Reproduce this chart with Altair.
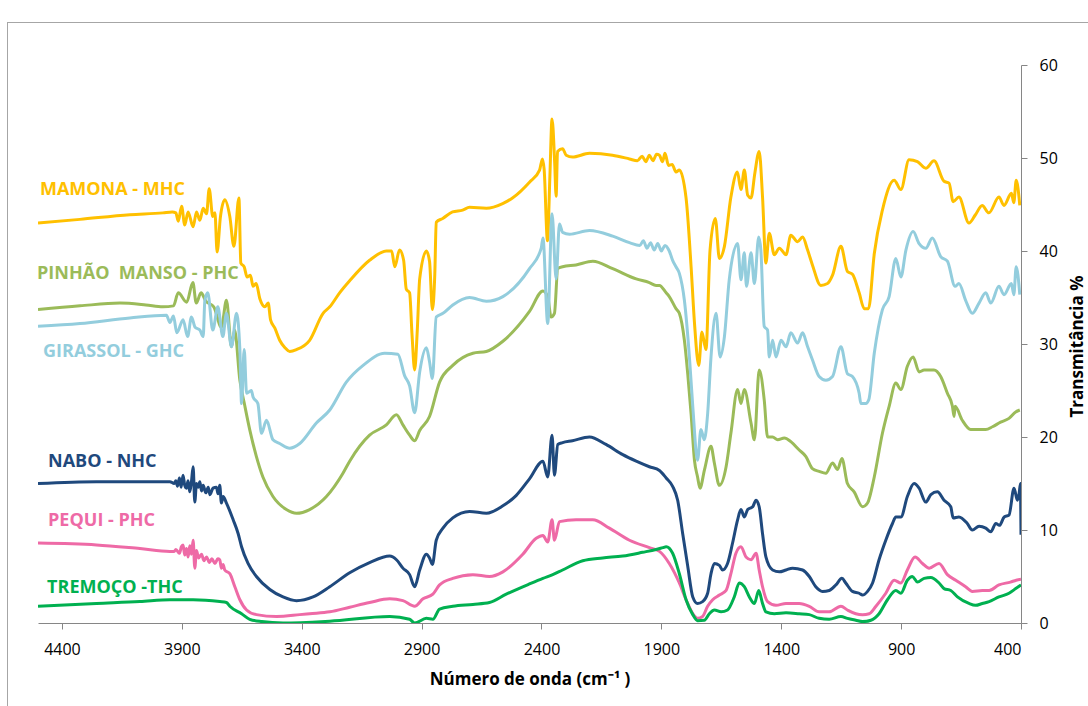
import altair as alt
import pandas as pd

# FTIR spectra: (wavenumber cm-1, transmittance %)
MAMONA = [
    (4500, 43.0), (4325, 43.4), (4117, 43.9), (3979, 44.1), (3940, 44.2), (3925, 44.1), (3915, 43.2),
    (3901, 44.8), (3888, 42.8), (3874, 44.2), (3853, 42.6), (3839, 44.2), (3825, 43.3), (3811, 44.6),
    (3797, 44.0), (3786, 46.7), (3771, 43.7), (3762, 44.1), (3753, 39.9), (3739, 43.7), (3721, 45.5),
    (3700, 43.7), (3683, 40.5), (3662, 45.7), (3654, 38.7), (3640, 38.3), (3628, 37.2), (3614, 37.4),
    (3603, 36.2), (3590, 36.5), (3575, 34.9), (3554, 34.0), (3540, 34.4), (3530, 32.6), (3512, 31.7),
    (3492, 30.4), (3470, 29.6), (3450, 29.2), (3422, 29.4), (3367, 30.4), (3311, 33.3), (3283, 34.0),
    (3242, 35.5), (3200, 36.8), (3117, 39.0), (3047, 40.0), (3025, 40.0), (3012, 38.3), (2992, 40.1),
    (2975, 39.0), (2964, 35.9), (2950, 35.5), (2940, 31.0), (2929, 27.2), (2918, 31.5), (2908, 37.0),
    (2880, 40.0), (2867, 38.9), (2855, 33.7), (2845, 37.5), (2839, 43.1), (2812, 43.5), (2771, 44.2),
    (2729, 44.4), (2700, 44.7), (2630, 44.6), (2562, 45.1), (2521, 45.7), (2450, 47.4), (2408, 48.7),
    (2396, 49.9), (2389, 48.8), (2375, 41.1), (2365, 48.0), (2356, 54.2), (2345, 49.5), (2339, 45.9),
    (2333, 50.7), (2312, 51.0), (2297, 50.3), (2271, 50.1), (2200, 50.5), (2104, 50.3), (2033, 49.9),
    (2000, 49.7), (1980, 50.2), (1965, 49.6), (1950, 50.3), (1935, 49.7), (1920, 50.4), (1908, 50.3),
    (1895, 49.6), (1885, 50.5), (1870, 49.2), (1855, 49.3), (1839, 48.5), (1825, 48.7), (1797, 45.7),
    (1776, 38.3), (1762, 32.3), (1744, 27.7), (1731, 31.3), (1714, 29.4), (1697, 40.1), (1675, 43.5),
    (1658, 39.2), (1637, 40.5), (1610, 45.8), (1583, 48.5), (1568, 46.6), (1554, 48.7), (1540, 46.0),
    (1526, 45.7), (1510, 48.4), (1492, 50.7), (1478, 45.8), (1464, 38.7), (1450, 41.9), (1429, 39.6),
    (1408, 40.3), (1380, 39.6), (1360, 41.7), (1332, 41.0), (1311, 41.5), (1290, 40.1), (1270, 38.5),
    (1235, 36.3), (1207, 36.5), (1186, 37.4), (1151, 40.5), (1124, 37.8), (1103, 37.5), (1075, 35.5),
    (1054, 33.8), (1036, 33.8), (1012, 39.7), (978, 44.4), (929, 47.6), (901, 46.6), (867, 49.8),
    (832, 49.6), (797, 48.9), (763, 49.7), (721, 47.5), (700, 47.3), (683, 45.3), (659, 45.8),
    (617, 43.0), (590, 43.9), (562, 44.9), (534, 44.1), (492, 45.8), (471, 44.9), (440, 46.2),
    (430, 45.2), (420, 47.6), (405, 44.9),
]

PINHAO = [
    (4500, 33.7), (4325, 34.1), (4158, 34.4), (4050, 34.2), (3979, 34.0), (3935, 34.1), (3915, 35.5),
    (3880, 34.5), (3854, 36.6), (3840, 34.4), (3820, 35.5), (3800, 34.6), (3767, 34.0), (3735, 31.8),
    (3714, 34.7), (3693, 29.7), (3680, 31.5), (3658, 26.1), (3637, 23.3), (3617, 20.8), (3589, 17.9),
    (3562, 15.7), (3520, 13.6), (3464, 12.2), (3422, 11.8), (3367, 12.2), (3297, 13.6), (3228, 16.1),
    (3200, 17.4), (3117, 20.2), (3047, 21.3), (3005, 22.4), (2978, 21.3), (2950, 20.2), (2929, 19.6),
    (2908, 20.7), (2867, 22.2), (2825, 25.9), (2770, 27.7), (2686, 29.0), (2630, 29.2), (2561, 30.3),
    (2450, 33.5), (2394, 35.7), (2374, 35.1), (2360, 32.9), (2346, 33.3), (2332, 38.1), (2312, 38.3),
    (2256, 38.5), (2186, 38.9), (2103, 38.1), (2005, 37.0), (1950, 36.6), (1922, 36.3), (1908, 36.3),
    (1880, 35.5), (1867, 35.1), (1839, 33.8), (1825, 33.3), (1804, 30.4), (1790, 26.8), (1776, 22.5),
    (1762, 17.5), (1749, 15.7), (1739, 14.5), (1720, 16.5), (1693, 19.0), (1679, 17.2), (1658, 14.8),
    (1630, 16.8), (1610, 20.4), (1582, 25.1), (1568, 23.6), (1554, 25.1), (1526, 21.5), (1512, 19.7),
    (1492, 27.2), (1471, 24.0), (1457, 20.0), (1436, 20.0), (1415, 19.7), (1387, 19.9), (1360, 19.5),
    (1325, 18.6), (1297, 17.9), (1270, 16.6), (1242, 16.3), (1214, 16.1), (1186, 17.2), (1165, 16.5),
    (1147, 17.7), (1124, 15.0), (1096, 14.1), (1061, 12.5), (1040, 12.9), (1012, 15.7), (978, 20.4),
    (950, 23.3), (922, 25.8), (901, 25.1), (874, 27.6), (850, 28.6), (825, 27.0), (804, 27.2),
    (783, 27.2), (763, 27.2), (735, 26.5), (707, 24.7), (686, 23.3), (679, 22.2), (675, 23.3),
    (645, 21.8), (610, 20.8), (575, 20.8), (547, 20.8), (519, 21.1), (485, 21.6), (450, 22.0),
    (422, 22.7), (405, 22.9),
]

GIRASSOL = [
    (4500, 31.9), (4325, 32.2), (4117, 32.8), (3964, 33.1), (3950, 32.3), (3935, 33.0), (3921, 31.2),
    (3895, 32.6), (3876, 30.8), (3860, 32.9), (3845, 31.8), (3825, 31.5), (3811, 30.8), (3804, 34.7),
    (3792, 35.5), (3771, 31.5), (3750, 34.0), (3729, 30.8), (3714, 33.3), (3693, 29.7), (3672, 33.3),
    (3658, 29.4), (3651, 23.6), (3640, 29.4), (3630, 24.7), (3610, 25.0), (3603, 24.3), (3583, 23.6),
    (3568, 20.4), (3547, 21.8), (3520, 19.7), (3492, 19.3), (3450, 18.8), (3408, 19.3), (3339, 21.5),
    (3283, 22.9), (3214, 25.9), (3144, 27.7), (3054, 29.0), (2999, 28.9), (2971, 26.6), (2950, 25.5),
    (2929, 22.6), (2908, 27.0), (2880, 29.6), (2867, 28.1), (2855, 26.3), (2839, 32.9), (2811, 33.3),
    (2770, 34.2), (2700, 35.0), (2630, 34.6), (2561, 35.1), (2450, 38.1), (2401, 40.3), (2394, 41.4),
    (2374, 32.2), (2356, 44.0), (2339, 37.0), (2325, 42.9), (2312, 42.0), (2283, 41.8), (2200, 42.2),
    (2103, 41.6), (2033, 40.9), (1990, 40.6), (1975, 41.1), (1960, 40.3), (1945, 40.9), (1930, 40.1),
    (1915, 40.8), (1900, 40.0), (1885, 40.6), (1867, 40.0), (1853, 39.0), (1839, 38.3), (1825, 37.6),
    (1804, 34.7), (1783, 28.6), (1769, 23.3), (1749, 17.5), (1735, 20.8), (1721, 19.7), (1707, 22.5),
    (1693, 28.6), (1672, 33.3), (1655, 28.6), (1637, 30.8), (1617, 36.9), (1582, 40.8), (1568, 36.9),
    (1554, 39.8), (1545, 36.2), (1526, 39.8), (1512, 36.5), (1494, 41.5), (1485, 40.1), (1471, 31.9),
    (1457, 31.5), (1450, 28.6), (1436, 30.4), (1422, 28.6), (1401, 30.4), (1380, 29.7), (1360, 31.2),
    (1332, 30.1), (1311, 31.2), (1290, 29.7), (1270, 28.3), (1242, 26.5), (1214, 26.1), (1186, 26.5),
    (1151, 29.7), (1124, 26.8), (1103, 26.5), (1075, 24.7), (1068, 23.6), (1047, 23.6), (1035, 24.0),
    (1012, 29.0), (978, 33.7), (950, 35.1), (922, 39.2), (901, 37.2), (880, 40.1), (850, 42.1),
    (825, 40.8), (797, 40.3), (770, 41.4), (735, 39.4), (707, 38.9), (675, 36.2), (659, 36.5),
    (631, 34.7), (603, 33.3), (575, 34.4), (547, 35.5), (526, 34.4), (492, 36.2), (471, 35.3),
    (440, 36.5), (430, 35.3), (420, 38.3), (405, 35.3),
]

NABO = [
    (4500, 15.0), (4256, 15.2), (4075, 15.2), (3950, 15.2), (3932, 15.0), (3925, 15.3), (3918, 14.7),
    (3910, 15.6), (3903, 14.6), (3895, 15.9), (3888, 14.8), (3881, 14.5), (3874, 15.3), (3867, 14.1),
    (3860, 15.2), (3853, 16.8), (3846, 13.0), (3839, 15.0), (3832, 14.6), (3825, 15.2), (3818, 14.2),
    (3811, 14.8), (3800, 14.0), (3790, 14.6), (3783, 13.8), (3770, 14.5), (3756, 14.6), (3749, 13.9),
    (3742, 14.8), (3735, 12.9), (3728, 13.6), (3714, 12.9), (3686, 11.1), (3665, 9.6), (3651, 8.2),
    (3624, 6.4), (3589, 5.0), (3533, 3.6), (3478, 2.8), (3422, 2.4), (3353, 2.8), (3283, 3.9),
    (3200, 5.4), (3117, 6.5), (3033, 7.2), (3005, 6.8), (2978, 5.9), (2950, 5.2), (2929, 3.9),
    (2908, 5.7), (2880, 7.4), (2867, 7.0), (2855, 6.3), (2839, 8.9), (2811, 10.2), (2770, 11.3),
    (2700, 12.0), (2630, 11.8), (2561, 12.6), (2506, 13.7), (2450, 15.5), (2394, 17.4), (2374, 15.7),
    (2356, 20.2), (2346, 15.9), (2332, 19.2), (2312, 19.4), (2271, 19.6), (2200, 20.0), (2131, 19.2),
    (2061, 18.1), (2005, 17.4), (1950, 16.8), (1908, 16.4), (1880, 15.6), (1853, 14.7), (1832, 13.2),
    (1811, 9.6), (1790, 6.1), (1769, 2.8), (1749, 2.1), (1728, 2.3), (1707, 3.2), (1693, 5.3),
    (1679, 6.4), (1658, 6.2), (1645, 5.7), (1624, 6.4), (1603, 8.6), (1582, 11.1), (1568, 12.2),
    (1554, 11.4), (1540, 12.2), (1519, 12.5), (1505, 13.2), (1492, 12.5), (1478, 9.6), (1464, 7.1),
    (1436, 5.7), (1408, 5.5), (1380, 5.7), (1353, 5.9), (1311, 5.7), (1283, 5.0), (1256, 3.9),
    (1228, 3.4), (1200, 3.5), (1172, 4.1), (1147, 4.8), (1131, 4.3), (1103, 3.4), (1075, 3.2),
    (1061, 3.0), (1040, 3.4), (1019, 4.3), (992, 6.8), (964, 8.9), (936, 10.7), (922, 11.4),
    (901, 11.4), (874, 13.6), (846, 15.0), (825, 14.5), (797, 13.0), (776, 13.8), (749, 14.1),
    (721, 13.2), (693, 12.5), (683, 11.3), (659, 11.4), (624, 10.7), (603, 10.0), (575, 10.4),
    (547, 10.2), (526, 9.8), (505, 10.7), (490, 10.5), (470, 11.4), (450, 11.6), (429, 14.5),
    (415, 13.2), (408, 13.9), (402, 15.0), (400, 9.5),
]

PEQUI = [
    (4500, 8.6), (4256, 8.4), (4075, 8.0), (3950, 7.7), (3932, 7.7), (3925, 7.9), (3910, 7.5),
    (3902, 8.2), (3895, 8.4), (3888, 7.3), (3881, 8.0), (3874, 7.1), (3867, 8.3), (3860, 7.4),
    (3853, 8.9), (3846, 5.9), (3839, 7.8), (3830, 7.0), (3818, 7.4), (3808, 6.7), (3797, 7.1),
    (3785, 6.5), (3775, 6.9), (3762, 6.4), (3750, 6.9), (3742, 6.8), (3735, 5.9), (3728, 6.3),
    (3721, 5.7), (3700, 5.3), (3679, 3.9), (3658, 2.5), (3630, 1.4), (3589, 0.9), (3505, 0.7),
    (3408, 0.9), (3367, 1.0), (3283, 1.2), (3200, 1.7), (3117, 2.2), (3033, 2.6), (2978, 2.4),
    (2929, 1.8), (2894, 2.6), (2853, 3.1), (2825, 4.1), (2770, 4.8), (2686, 5.2), (2617, 5.0),
    (2561, 5.5), (2478, 7.4), (2422, 9.1), (2394, 9.4), (2374, 8.7), (2356, 11.1), (2346, 8.9),
    (2325, 10.9), (2256, 11.1), (2186, 11.1), (2117, 10.2), (2033, 8.9), (1950, 8.1), (1908, 7.7),
    (1867, 6.4), (1825, 4.3), (1797, 2.5), (1769, 1.0), (1749, 0.5), (1728, 0.7), (1707, 1.8),
    (1686, 2.5), (1658, 3.0), (1630, 3.5), (1610, 5.3), (1589, 7.5), (1568, 8.2), (1547, 7.1),
    (1526, 6.8), (1505, 7.5), (1492, 5.7), (1478, 3.9), (1457, 2.3), (1422, 1.9), (1380, 2.1),
    (1325, 2.1), (1283, 1.8), (1242, 1.2), (1200, 1.2), (1151, 1.8), (1124, 1.4), (1089, 1.0),
    (1061, 0.9), (1033, 1.0), (1005, 1.8), (964, 3.2), (929, 4.6), (901, 4.3), (874, 5.7),
    (842, 7.1), (811, 6.4), (783, 5.9), (742, 6.4), (707, 5.2), (672, 4.6), (631, 3.9),
    (603, 3.4), (561, 3.5), (533, 3.5), (492, 4.1), (444, 4.4), (420, 4.6), (400, 4.7),
]

TREMOCO = [
    (4500, 1.8), (4256, 2.1), (4075, 2.3), (3950, 2.5), (3853, 2.5), (3742, 2.3), (3714, 2.2),
    (3700, 1.8), (3651, 1.0), (3617, 0.4), (3567, 0.15), (3478, 0.0), (3283, 0.2), (3033, 0.7),
    (2950, 0.4), (2929, 0.0), (2880, 0.5), (2853, 0.4), (2825, 1.5), (2770, 1.8), (2686, 2.0),
    (2617, 2.2), (2547, 3.1), (2450, 4.2), (2394, 4.8), (2353, 5.2), (2312, 5.7), (2228, 6.7),
    (2145, 7.0), (2061, 7.2), (1978, 7.6), (1922, 7.9), (1894, 8.1), (1880, 8.2), (1853, 7.5),
    (1825, 5.3), (1797, 2.5), (1769, 0.9), (1749, 0.25), (1721, 0.3), (1700, 1.0), (1679, 1.4),
    (1651, 1.2), (1624, 1.4), (1596, 2.8), (1575, 4.3), (1554, 3.9), (1533, 2.8), (1512, 2.1),
    (1494, 3.5), (1478, 2.1), (1464, 1.2), (1429, 1.0), (1380, 1.1), (1325, 1.0), (1283, 0.9),
    (1242, 0.5), (1200, 0.4), (1151, 0.7), (1124, 0.5), (1089, 0.3), (1061, 0.15), (1026, 0.3),
    (992, 1.0), (957, 2.5), (922, 3.5), (901, 3.2), (874, 4.6), (853, 5.0), (832, 4.4),
    (804, 4.8), (776, 4.9), (742, 4.3), (721, 3.7), (693, 3.5), (665, 2.8), (617, 2.1),
    (590, 1.9), (561, 2.1), (533, 2.3), (492, 2.8), (450, 3.2), (422, 3.7), (400, 4.1),
]

# series names, colours and where their names are written
NAMES = ["MAMONA - MHC", "PINHÃO\u00a0 MANSO - PHC", "GIRASSOL - GHC", "NABO - NHC", "PEQUI - PHC", "TREMOÇO -THC"]
COLORS = ["#FFC000", "#9BBB59", "#93CDDD", "#1F497D", "#EE6AA6", "#00B050"]
SPECTRA = [MAMONA, PINHAO, GIRASSOL, NABO, PEQUI, TREMOCO]
LABEL_WN = [4492, 4504, 4479, 4458, 4458, 4462]
LABEL_T = [46.6, 37.5, 29.1, 17.3, 11.0, 3.8]

X_TICKS = [4400, 3900, 3400, 2900, 2400, 1900, 1400, 900, 400]
Y_TICKS = [0, 10, 20, 30, 40, 50, 60]

W, H = 983, 558
AXIS_GREY = "#868686"

x_scale = alt.Scale(domain=[400, 4500], reverse=True, nice=False, zero=False)
y_scale = alt.Scale(domain=[0, 60], nice=False, zero=False)

x_axis = alt.Axis(
    values=X_TICKS, format="d", title="Número de onda (cm⁻¹ )", grid=False,
    domainColor=AXIS_GREY, tickColor=AXIS_GREY, tickSize=6,
    labelFont="Open Sans", labelFontSize=16, labelColor="#000000", labelPadding=12,
    titleFont="Open Sans", titleFontSize=17, titleFontWeight="bold", titleColor="#000000",
    titleX=W / 2, titleY=56, titleBaseline="middle", titleAlign="center",
)
y_axis = alt.Axis(
    values=Y_TICKS, orient="right", title="Transmitância %", grid=False,
    domainColor=AXIS_GREY, tickColor=AXIS_GREY, tickSize=6,
    labelFont="Open Sans", labelFontSize=16, labelColor="#000000", labelPadding=12,
    titleFont="Open Sans", titleFontSize=17, titleFontWeight="bold", titleColor="#000000",
    titleAngle=270, titleX=56, titleY=H / 2 + 2, titleBaseline="middle", titleAlign="center",
)

layers = []
for name, spec, color in zip(NAMES, SPECTRA, COLORS):
    df = pd.DataFrame(spec, columns=["wn", "T"])
    layers.append(
        alt.Chart(df).mark_line(
            color=color, strokeWidth=3, strokeJoin="round", interpolate="monotone", clip=True
        ).encode(
            x=alt.X("wn:Q", scale=x_scale, axis=x_axis),
            y=alt.Y("T:Q", scale=y_scale, axis=y_axis),
        )
    )

labels_df = pd.DataFrame({"name": NAMES, "wn": LABEL_WN, "T": LABEL_T, "color": COLORS})
labels = alt.Chart(labels_df).mark_text(
    align="left", baseline="middle", font="Open Sans", fontWeight="bold", fontSize=18
).encode(
    x=alt.X("wn:Q", scale=x_scale, axis=x_axis),
    y=alt.Y("T:Q", scale=y_scale, axis=y_axis),
    text="name:N",
    color=alt.Color("color:N", scale=None),
)

# light frame around the chart area
frame_df = pd.DataFrame({"k": [0]})
frame_left = alt.Chart(frame_df).mark_rule(color="#A6A6A6", strokeWidth=1).encode(
    x=alt.value(-30.5), y=alt.value(-42), y2=alt.value(H + 120)
)
frame_top = alt.Chart(frame_df).mark_rule(color="#A6A6A6", strokeWidth=1).encode(
    y=alt.value(-42.5), x=alt.value(-31), x2=alt.value(W + 120)
)

chart = alt.layer(frame_left, frame_top, *layers, labels).properties(
    width=W, height=H,
    autosize=alt.AutoSizeParams(type="none"),
    padding={"left": 38, "top": 65, "right": 1088 - 38 - W, "bottom": 706 - 65 - H},
    background="#FFFFFF",
).configure_view(stroke=None)

chart.save("out.html", embed_options={"renderer": "svg", "actions": False})
